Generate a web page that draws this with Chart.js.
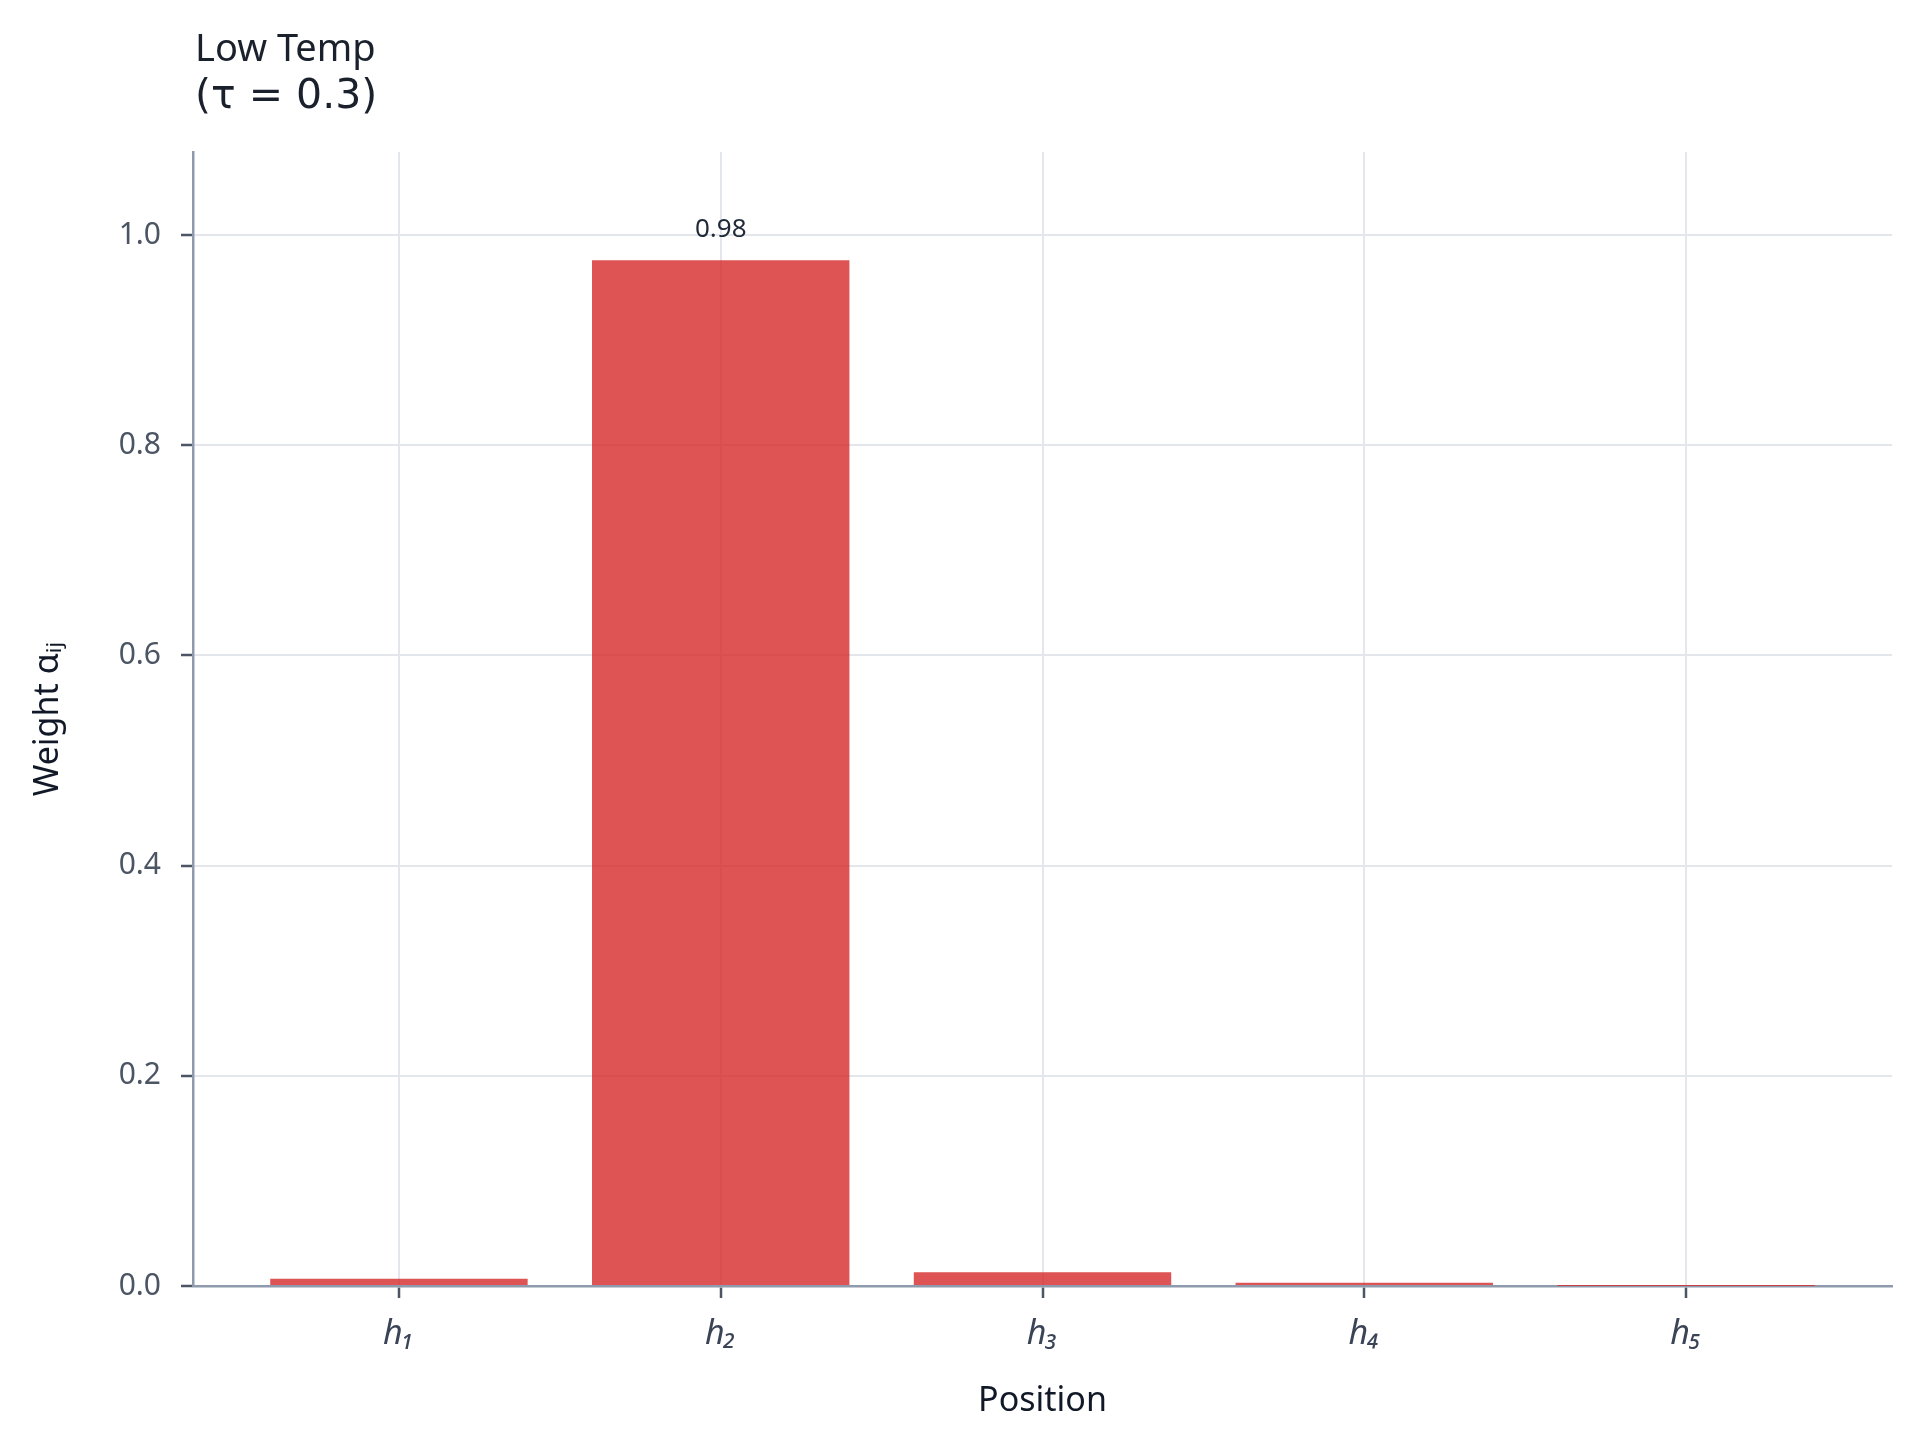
<!DOCTYPE html>
<html>
<head>
<meta charset="utf-8">
<script src="https://cdn.jsdelivr.net/npm/chart.js@4.4.1/dist/chart.umd.min.js"></script>
<style>
  html, body { margin: 0; padding: 0; background: #ffffff; }
  #wrap { width: 1920px; height: 1448px; position: relative; }
</style>
</head>
<body>
<div id="wrap"><canvas id="c"></canvas></div>
<script>
// ---- data ----
const categories = ["h₁", "h₂", "h₃", "h₄", "h₅"];
const positions = [0, 1, 2, 3, 4];
const weights = [0.007, 0.976, 0.013, 0.003, 0.0001];
const yTicks = [0, 0.2, 0.4, 0.6, 0.8, 1.0];
const titleLines = ["Low Temp", "(τ = 0.3)"];
const xTitle = "Position";
const yTitle = "Weight αᵢⱼ";

const FONT = "'Noto Sans', 'DejaVu Sans', sans-serif";

const titlePlugin = {
  id: 'leftTitle',
  afterDraw(chart) {
    const ctx = chart.ctx;
    const left = chart.chartArea.left + 2;
    ctx.save();
    ctx.fillStyle = '#1a202c';
    ctx.textAlign = 'left';
    ctx.textBaseline = 'alphabetic';
    ctx.font = `38px ${FONT}`;
    ctx.fillText(titleLines[0], left, 61);
    ctx.font = `41px 'DejaVu Sans', sans-serif`;
    ctx.fillText(titleLines[1], left, 108);
    ctx.restore();
  }
};

const valueLabelPlugin = {
  id: 'valueLabels',
  afterDatasetsDraw(chart) {
    const ctx = chart.ctx;
    const meta = chart.getDatasetMeta(0);
    ctx.save();
    ctx.fillStyle = '#1f2937';
    ctx.font = `26px ${FONT}`;
    ctx.textAlign = 'center';
    ctx.textBaseline = 'bottom';
    meta.data.forEach((bar, i) => {
      const v = weights[i];
      if (v >= 0.5) {
        ctx.fillText(v.toFixed(2), bar.x, bar.y - 18);
      }
    });
    ctx.restore();
  }
};

new Chart(document.getElementById('c'), {
  type: 'bar',
  data: {
    datasets: [{
      data: positions.map((p, i) => ({ x: p, y: weights[i] })),
      backgroundColor: 'rgba(214,40,40,0.8)',
      borderWidth: 0,
      categoryPercentage: 1.0,
      barPercentage: 0.8
    }]
  },
  options: {
    responsive: true,
    maintainAspectRatio: false,
    devicePixelRatio: 1,
    animation: false,
    layout: { padding: { top: 152, right: 28, left: 0, bottom: 0 } },
    plugins: {
      legend: { display: false },
      tooltip: { enabled: false },
      title: { display: false }
    },
    scales: {
      x: {
        type: 'linear',
        offset: false,
        min: -0.64,
        max: 4.64,
        afterBuildTicks: (scale) => { scale.ticks = positions.map(v => ({ value: v })); },
        afterFit: (scale) => { scale.height = 162; },
        ticks: {
          callback: (v) => categories[positions.indexOf(v)] ?? '',
          font: { family: FONT, size: 34, style: 'italic' },
          color: '#3b4457',
          padding: 16,
          maxRotation: 0,
          autoSkip: false
        },
        grid: {
          offset: false,
          color: '#e3e7ec',
          lineWidth: 2,
          drawTicks: true,
          tickLength: 12,
          tickColor: '#4b5563',
          tickWidth: 2.5
        },
        border: { display: true, color: '#8f9bad', width: 2.5 },
        title: {
          display: true,
          text: xTitle,
          font: { family: FONT, size: 34 },
          color: '#111827',
          padding: { top: 0, bottom: 26 }
        }
      },
      y: {
        min: 0,
        max: 1.079,
        afterBuildTicks: (scale) => { scale.ticks = yTicks.map(v => ({ value: v })); },
        afterFit: (scale) => { scale.width = 193; },
        ticks: {
          callback: (v) => Number(v).toFixed(1),
          font: { family: FONT, size: 30 },
          color: '#4b5563',
          padding: 20
        },
        grid: {
          color: '#e3e7ec',
          lineWidth: 2,
          drawTicks: true,
          tickLength: 12,
          tickColor: '#4b5563',
          tickWidth: 2.5
        },
        border: { display: true, color: '#8f9bad', width: 2.5 },
        title: {
          display: true,
          text: yTitle,
          font: { family: FONT, size: 34 },
          color: '#111827',
          padding: { top: 28, bottom: 0 }
        }
      }
    }
  },
  plugins: [titlePlugin, valueLabelPlugin]
});
</script>
</body>
</html>
